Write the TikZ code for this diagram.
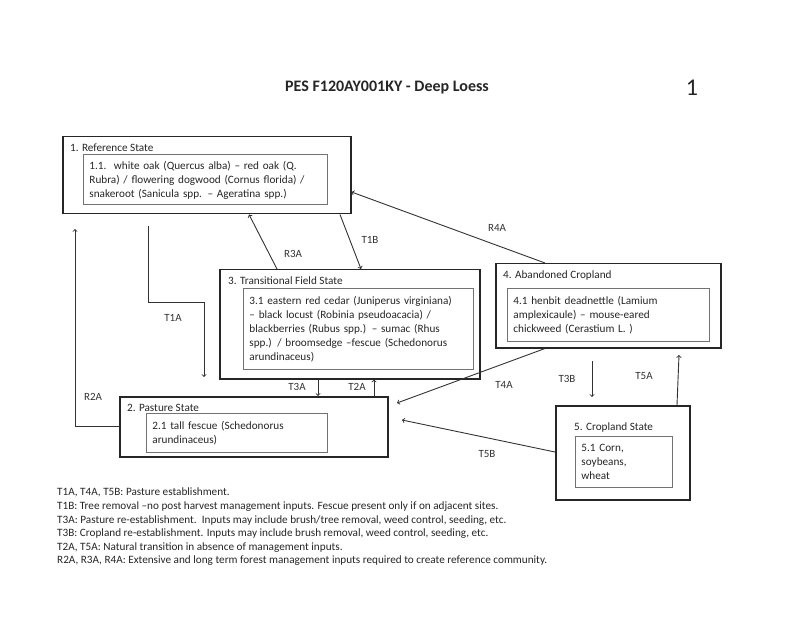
\documentclass[tikz,border=0pt]{standalone}
\usepackage{fontspec}
\setmainfont{Carlito}
\tikzset{
  estado/.style={draw=black!85, line width=1.5pt, inner sep=0pt, anchor=north west},
  comunidad/.style={draw=black!55, line width=0.9pt, align=left, anchor=north west,
    inner xsep=6pt, inner ysep=0pt, text=black!85, font=\fontsize{11.2}{14}\selectfont},
  titulo/.style={anchor=west, inner sep=0pt, text=black!85, font=\fontsize{11.2}{14}\selectfont},
  etiqueta/.style={inner sep=0pt, text=black!80, font=\fontsize{11}{13}\selectfont},
  flecha/.style={->, line width=0.9pt, draw=black!80}
}
\begin{document}
\begin{tikzpicture}[x=1pt, y=-1pt]
    \useasboundingbox[fill=white] (0,0) rectangle (800,617);
    % Titulo
    \node[inner sep=0pt, text=black!85, font=\fontsize{16}{19}\selectfont\bfseries] (titulo) at (387,88) {PES F120AY001KY - Deep Loess};
    \node[inner sep=0pt, text=black!85, font=\fontsize{24}{28}\selectfont] (pagina) at (692,88) {1};
    % Estado 1
    \node[estado, minimum width=288pt, minimum height=77pt] (ref) at (62,136) {};
    \node[titulo] (reft) at (70,148) {1. Reference State};
    \node[comunidad, text width=232pt, minimum height=50pt] (refc) at (83,154)
      {\rule{0pt}{10pt}1.1.\ \ white oak (Quercus alba) -- red oak (Q.\\ Rubra) / flowering dogwood (Cornus florida) /\\ snakeroot (Sanicula spp. -- Ageratina spp.)};
    % Estado 3
    \node[estado, minimum width=260pt, minimum height=109pt] (trans) at (219,269) {};
    \node[titulo] (transt) at (228,281) {3. Transitional Field State};
    \node[comunidad, text width=218pt, minimum height=81pt] (transc) at (243,288)
      {3.1 eastern red cedar (Juniperus virginiana)\\ -- black locust (Robinia pseudoacacia) /\\ blackberries (Rubus spp.) -- sumac (Rhus\\ spp.) / broomsedge --fescue (Schedonorus\\ arundinaceus)};
    % Estado 4
    \node[estado, minimum width=225pt, minimum height=84pt] (aband) at (495,263) {};
    \node[titulo] (abandt) at (503,276) {4. Abandoned Cropland};
    \node[comunidad, text width=190pt, minimum height=53pt] (abandc) at (507,288)
      {4.1 henbit deadnettle (Lamium\\ amplexicaule) -- mouse-eared\\ chickweed (Cerastium L. )};
    % Estado 2
    \node[estado, minimum width=268pt, minimum height=60pt] (pasto) at (119,396) {};
    \node[titulo] (pastot) at (127,408) {2. Pasture State};
    \node[comunidad, text width=169pt, minimum height=39pt] (pastoc) at (146,413)
      {2.1 tall fescue (Schedonorus\\ arundinaceus)};
    % Estado 5
    \node[estado, minimum width=134pt, minimum height=94pt] (cultivo) at (555,405) {};
    \node[titulo] (cultivot) at (574,428) {5. Cropland State};
    \node[comunidad, text width=85pt, minimum height=51pt] (cultivoc) at (575,436)
      {5.1 Corn,\\ soybeans,\\ wheat};
    % Extremos libres
    \coordinate (r2a) at (75,229);
    \coordinate (t1a) at (148,226);
    \coordinate (t1afin) at (204,377);
    \coordinate (t4afin) at (397,403);
    \coordinate (t5bfin) at (402,420);
    \coordinate (t3b) at (592,361);
    \coordinate (t3bfin) at (592,397);
    \coordinate (t5afin) at (679,355);
    % Transiciones
    \draw[flecha] (pasto.west) -| (r2a);
    \draw[flecha] (t1a) -- (148,302) -| (t1afin);
    \draw[flecha] (trans.north -| 277,0) -- (ref.south -| 249,0);
    \draw[flecha] (ref.south -| 340,0) -- (trans.north -| 361,0);
    \draw[flecha] (aband.north -| 545,0) -- (ref.east |- 0,192);
    \draw[flecha] (trans.south -| 318,0) -- (pasto.north -| 318,0);
    \draw[flecha] (pasto.north -| 374,0) -- (trans.south -| 374,0);
    \draw[flecha] (aband.south -| 545,0) -- (t4afin);
    \draw[flecha] (cultivo.west |- 0,452) -- (t5bfin);
    \draw[flecha] (t3b) -- (t3bfin);
    \draw[flecha] (cultivo.north -| 677,0) -- (t5afin);
    % Etiquetas
    \node[etiqueta] (lr2a) at (93,397) {R2A};
    \node[etiqueta] (lt1a) at (173,318) {T1A};
    \node[etiqueta] (lr3a) at (293,254) {R3A};
    \node[etiqueta] (lt1b) at (370,240) {T1B};
    \node[etiqueta] (lr4a) at (497,228) {R4A};
    \node[etiqueta] (lt3a) at (297,387) {T3A};
    \node[etiqueta] (lt2a) at (357,387) {T2A};
    \node[etiqueta] (lt4a) at (504,385) {T4A};
    \node[etiqueta] (lt3b) at (567,379) {T3B};
    \node[etiqueta] (lt5a) at (644,376) {T5A};
    \node[etiqueta] (lt5b) at (487,454) {T5B};
    % Leyenda
    \node[anchor=north west, inner sep=0pt, align=left, text=black!85, font=\fontsize{11.2}{13.6}\selectfont] (leyenda) at (57,488)
      {T1A, T4A, T5B: Pasture establishment.\\
       T1B: Tree removal --no post harvest management inputs. Fescue present only if on adjacent sites.\\
       T3A: Pasture re-establishment.\ \ Inputs may include brush/tree removal, weed control, seeding, etc.\\
       T3B: Cropland re-establishment. Inputs may include brush removal, weed control, seeding, etc.\\
       T2A, T5A: Natural transition in absence of management inputs.\\
       R2A, R3A, R4A: Extensive and long term forest management inputs required to create reference community.};
\end{tikzpicture}
\end{document}
